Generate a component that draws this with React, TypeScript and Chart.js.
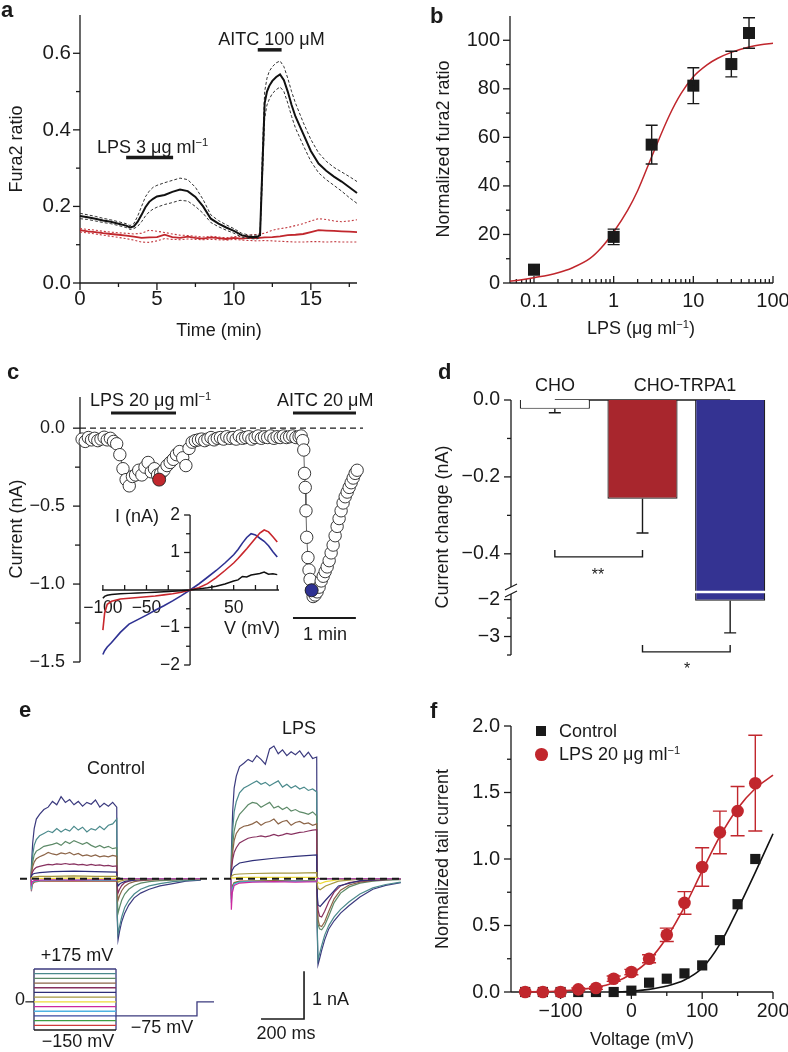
import React, { useEffect, useRef } from "react";
import { Chart, registerables } from "chart.js";

Chart.register(...registerables);

const PAGE_W = 788;
const PAGE_H = 1052;
const FONT = '"Liberation Sans", Arial, Helvetica, sans-serif';
const INK = "#1a1a1a";
const RED = "#c1272d";
const BLUE = "#2e3192";

/* ---------------- panel a : fura2 ratio vs time ---------------- */
const aTime = [0, 0.5, 1, 1.5, 2, 2.5, 3, 3.25, 3.5, 3.75, 4, 4.25, 4.5, 4.75, 5, 5.5, 6, 6.5, 7, 7.5, 8, 8.5, 9, 9.5, 10, 10.5, 11, 11.5, 11.7, 11.85, 12, 12.15, 12.3, 12.5, 12.75, 13, 13.25, 13.5, 13.75, 14, 14.5, 15, 15.5, 16, 16.5, 17, 17.5, 18];
const aBlackMean = [0.175, 0.172, 0.168, 0.163, 0.16, 0.155, 0.15, 0.145, 0.148, 0.16, 0.178, 0.198, 0.212, 0.22, 0.226, 0.23, 0.238, 0.244, 0.24, 0.225, 0.2, 0.168, 0.155, 0.145, 0.136, 0.125, 0.12, 0.12, 0.125, 0.3, 0.47, 0.5, 0.515, 0.528, 0.538, 0.545, 0.53, 0.5, 0.465, 0.435, 0.39, 0.345, 0.312, 0.293, 0.278, 0.265, 0.25, 0.235];
const aBlackHi = [0.182, 0.178, 0.174, 0.169, 0.165, 0.16, 0.155, 0.15, 0.155, 0.175, 0.2, 0.225, 0.24, 0.25, 0.255, 0.262, 0.268, 0.274, 0.27, 0.25, 0.218, 0.178, 0.163, 0.152, 0.142, 0.13, 0.125, 0.125, 0.13, 0.34, 0.5, 0.535, 0.553, 0.565, 0.575, 0.58, 0.565, 0.535, 0.5, 0.47, 0.42, 0.375, 0.34, 0.318, 0.302, 0.29, 0.278, 0.265];
const aBlackLo = [0.168, 0.166, 0.162, 0.158, 0.155, 0.15, 0.145, 0.14, 0.142, 0.148, 0.16, 0.175, 0.186, 0.193, 0.198, 0.205, 0.21, 0.216, 0.214, 0.2, 0.182, 0.158, 0.147, 0.138, 0.13, 0.12, 0.116, 0.115, 0.12, 0.27, 0.43, 0.465, 0.48, 0.495, 0.505, 0.512, 0.5, 0.47, 0.435, 0.405, 0.36, 0.318, 0.288, 0.27, 0.255, 0.24, 0.223, 0.208];
const aRedTime = [0, 0.5, 1, 1.5, 2, 2.5, 3, 3.5, 4, 4.5, 5, 5.5, 6, 6.5, 7, 7.5, 8, 8.5, 9, 9.5, 10, 10.5, 11, 11.5, 12, 12.5, 13, 13.5, 14, 14.5, 15, 15.5, 16, 16.5, 17, 17.5, 18];
const aRedMean = [0.138, 0.135, 0.133, 0.13, 0.128, 0.126, 0.124, 0.121, 0.118, 0.119, 0.12, 0.126, 0.12, 0.118, 0.121, 0.118, 0.116, 0.119, 0.117, 0.115, 0.118, 0.116, 0.118, 0.117, 0.119, 0.12, 0.122, 0.125, 0.126, 0.128, 0.133, 0.138, 0.137, 0.136, 0.135, 0.134, 0.133];
const aRedHi = [0.142, 0.14, 0.138, 0.135, 0.133, 0.131, 0.13, 0.128, 0.13, 0.138, 0.135, 0.132, 0.128, 0.125, 0.124, 0.122, 0.12, 0.122, 0.12, 0.118, 0.121, 0.122, 0.125, 0.127, 0.13, 0.138, 0.142, 0.145, 0.15, 0.155, 0.162, 0.168, 0.166, 0.162, 0.16, 0.162, 0.165];
const aRedLo = [0.133, 0.131, 0.128, 0.125, 0.122, 0.119, 0.116, 0.112, 0.107, 0.106, 0.11, 0.116, 0.114, 0.113, 0.115, 0.114, 0.113, 0.114, 0.113, 0.112, 0.114, 0.112, 0.111, 0.11, 0.111, 0.11, 0.109, 0.108, 0.107, 0.107, 0.108, 0.108, 0.107, 0.108, 0.107, 0.107, 0.107];
const aLpsBar = [3, 6.05];
const aLpsLevel = 0.328;
const aAitcBar = [11.55, 13.1];
const aAitcLevel = 0.609;
const aXMajor = [0, 5, 10, 15];
const aXMinor = [2.5, 7.5, 12.5, 17.5];
const aYMajor = [0, 0.2, 0.4, 0.6];
const aYMinor = [0.1, 0.3, 0.5];

/* ---------------- panel b : dose response ---------------- */
const bDose = [0.1, 1, 3, 10, 30, 50];
const bResp = [5.5, 19, 57, 81.3, 90.2, 103];
const bSem = [2, 3.2, 8, 7.4, 5.3, 6.3];
const bFitDose = [0.05, 0.07, 0.1, 0.15, 0.2, 0.3, 0.5, 0.7, 1, 1.5, 2, 3, 5, 7, 10, 15, 20, 30, 50, 70, 100];
const bFitResp = [0.8, 1.3, 2.2, 3.2, 4.2, 6.2, 10, 14.5, 21, 30, 38, 52, 69, 78, 85, 90, 92.5, 95, 97.2, 98.2, 98.8];
const bXMajor = [0.1, 1, 10, 100];
const bXMinor = [0.06, 0.07, 0.08, 0.09, 0.2, 0.3, 0.4, 0.5, 0.6, 0.7, 0.8, 0.9, 2, 3, 4, 5, 6, 7, 8, 9, 20, 30, 40, 50, 60, 70, 80, 90];
const bYMajor = [0, 20, 40, 60, 80, 100];
const bYMinor = [10, 30, 50, 70, 90];

/* ---------------- panel c : current vs time ---------------- */
const cTime = [0, 3, 6, 9, 12, 15, 18, 21, 24, 27, 30, 33, 36, 39, 42, 45, 48, 51, 54, 57, 60, 63, 66, 69, 72, 75, 78, 81, 84, 87, 90, 93, 96, 99, 102, 105, 108, 111, 114, 117, 120, 123, 126, 129, 132, 135, 138, 141, 144, 147, 150, 153, 156, 159, 162, 165, 168, 171, 174, 177, 180, 183, 186, 189, 192, 195, 198, 201, 204, 207, 209, 210.5, 211.5, 212.2, 212.9, 213.6, 214.3, 215.5, 216.5, 217.5, 219, 220.4, 222.3, 224.2, 226.1, 228.1, 230, 231.9, 233.8, 235.7, 237.6, 239.5, 241.4, 243.3, 245.2, 247.1, 249, 251, 252.9, 254.8, 256.7, 258.6, 260.5, 262.4];
const cCurrent = [
  -0.07, -0.085, -0.06, -0.075, -0.065, -0.08, -0.07, -0.058, -0.075, -0.065,
  -0.085, -0.1, -0.17, -0.26, -0.33, -0.37, -0.31, -0.3, -0.27, -0.3,
  -0.25, -0.22, -0.28, -0.26, -0.3, -0.29, -0.27, -0.24, -0.22, -0.2,
  -0.17, -0.15, -0.19, -0.24, -0.13, -0.09, -0.08, -0.075, -0.07, -0.08,
  -0.07, -0.06, -0.075, -0.065, -0.06, -0.07, -0.055, -0.065, -0.06, -0.07,
  -0.05, -0.065, -0.06, -0.055, -0.07, -0.06, -0.05, -0.065, -0.055, -0.06,
  -0.05, -0.065, -0.055, -0.06, -0.05, -0.06, -0.055, -0.05, -0.06, -0.055,
  -0.05, -0.08, -0.14, -0.29, -0.38, -0.53, -0.7, -0.83, -0.91, -0.97, -1.04,
  -1.08, -1.07, -1.05, -1.02, -0.98, -0.95, -0.92, -0.89, -0.85, -0.8, -0.75, -0.69, -0.63, -0.58, -0.53, -0.48, -0.44, -0.41, -0.38, -0.35, -0.32, -0.29, -0.27,
];
const cLpsPoint = [73.5, -0.33];
const cAitcPoint = [219, -1.04];
const cLpsBar = [27.6, 89.6];
const cAitcBar = [201.2, 261.3];
const cDrugLevel = 0.0975;
const cMinuteBar = [201.2, 261.2];
const cMinuteLevel = -1.217;
const cYMajor = [0, -0.5, -1, -1.5];
const cYMinor = [-0.25, -0.75, -1.25];

/* inset I-V curves */
const ivV = [-100, -98, -95, -90, -80, -70, -60, -50, -40, -30, -20, -10, 0, 10, 20, 30, 40, 50, 55, 60, 65, 70, 75, 80, 85, 90, 95, 100];
const ivBasal = [-0.22, -0.17, -0.14, -0.12, -0.1, -0.09, -0.08, -0.07, -0.06, -0.045, -0.035, -0.02, 0, 0.03, 0.06, 0.1, 0.16, 0.24, 0.27, 0.36, 0.35, 0.4, 0.42, 0.44, 0.48, 0.42, 0.43, 0.41];
const ivLps = [-1.07, -0.62, -0.38, -0.3, -0.24, -0.22, -0.2, -0.18, -0.16, -0.13, -0.1, -0.06, 0, 0.06, 0.17, 0.33, 0.52, 0.72, 0.84, 0.97, 1.1, 1.24, 1.38, 1.52, 1.6, 1.55, 1.42, 1.28];
const ivAitc = [-1.72, -1.62, -1.52, -1.4, -1.13, -0.91, -0.79, -0.67, -0.54, -0.42, -0.29, -0.15, 0, 0.16, 0.34, 0.52, 0.72, 0.94, 1.08, 1.25, 1.4, 1.5, 1.47, 1.38, 1.3, 1.18, 1.02, 0.88];

/* ---------------- panel d : bar chart with broken axis ---------------- */
const dGroups = ["CHO", "CHO-TRPA1 LPS", "CHO-TRPA1 AITC"];
const dMean = [-0.023, -0.257, -2.03];
const dSem = [0.01, 0.089, 0.87];
const dColors = ["#ffffff", "#a8262d", "#343392"];
const dYMajor = [0, -0.2, -0.4, -2, -3];
const dYMinor = [-0.1, -0.3, -2.5, -3.5];
const dBrackets = [
  { from: 0, to: 1, level: -0.408, arm: -0.39 },
  { from: 1, to: 2, level: -3.415, arm: -3.23 },
];
// broken axis: values below -0.5 nA are drawn compressed
const D_UPPER_LIMIT = -0.5;
const D_LOWER_REF = -2;
const D_LOWER_REF_DISP = -0.519;
const D_LOWER_RATIO = 0.0961;
function dDisp(v: number) {
  return v >= D_UPPER_LIMIT ? v : D_LOWER_REF_DISP + (v - D_LOWER_REF) * D_LOWER_RATIO;
}

/* ---------------- panel e : current traces ---------------- */
const eBigT = [0, 3, 8, 15, 25, 40, 60, 80, 100, 120, 140, 160, 180, 200, 220, 240, 260, 280, 300, 320, 340, 360, 380, 399, 401, 405, 412, 422, 436, 455, 480, 510, 550, 600, 660, 720, 790];
const eSmallT = [0, 2, 6, 15, 40, 100, 200, 300, 399, 401, 405, 415, 440, 500, 600, 790];
const eCtrl175 = [0, 0.35, 0.75, 1.05, 1.25, 1.35, 1.45, 1.5, 1.62, 1.55, 1.72, 1.6, 1.66, 1.55, 1.62, 1.52, 1.6, 1.56, 1.65, 1.5, 1.58, 1.52, 1.6, 1.5, -0.8, -1.28, -1.1, -0.9, -0.72, -0.55, -0.4, -0.3, -0.22, -0.15, -0.1, -0.05, -0.03];
const eCtrl150 = [0, 0.25, 0.5, 0.7, 0.82, 0.9, 0.95, 1.0, 0.97, 1.05, 0.98, 1.04, 1.0, 1.1, 1.02, 1.08, 0.98, 1.05, 1.02, 1.1, 1.03, 1.12, 1.15, 1.25, -0.7, -1.15, -1.0, -0.8, -0.6, -0.45, -0.32, -0.22, -0.15, -0.1, -0.06, -0.04, -0.02];
const eCtrl125 = [0, 0.18, 0.35, 0.5, 0.58, 0.62, 0.68, 0.7, 0.72, 0.75, 0.7, 0.78, 0.74, 0.8, 0.76, 0.72, 0.76, 0.7, 0.66, 0.7, 0.65, 0.68, 0.63, 0.65, -0.4, -0.72, -0.6, -0.45, -0.32, -0.22, -0.14, -0.09, -0.06, -0.04, -0.03, -0.02, -0.01];
const eCtrl100 = [0, 0.12, 0.25, 0.35, 0.42, 0.46, 0.5, 0.55, 0.52, 0.5, 0.54, 0.52, 0.55, 0.5, 0.53, 0.48, 0.5, 0.47, 0.5, 0.46, 0.48, 0.46, 0.49, 0.47, -0.25, -0.45, -0.35, -0.25, -0.16, -0.1, -0.06, -0.04, -0.03, -0.02, -0.02, -0.01, -0.01];
const eCtrl75 = [0, 0.08, 0.15, 0.2, 0.24, 0.26, 0.28, 0.3, 0.29, 0.31, 0.3, 0.32, 0.3, 0.31, 0.29, 0.3, 0.28, 0.3, 0.28, 0.29, 0.27, 0.28, 0.26, 0.27, -0.15, -0.3, -0.22, -0.14, -0.08, -0.05, -0.03, -0.02, -0.02, -0.01, -0.01, 0, 0];
const eCtrl50 = [0, 0.05, 0.09, 0.11, 0.13, 0.15, 0.16, 0.15, 0.14, -0.06, -0.15, -0.1, -0.05, -0.02, -0.01, 0];
const eCtrl25 = [0, 0.02, 0.03, 0.04, 0.05, 0.05, 0.06, 0.05, 0.05, -0.03, -0.07, -0.05, -0.02, -0.01, 0, 0];
const eCtrl0 = [0, 0.01, 0.01, 0.01, 0.01, 0.01, 0.02, 0.01, 0.01, -0.01, -0.03, -0.02, -0.01, 0, 0, 0];
const eCtrlM25 = [0, -0.12, -0.06, -0.04, -0.03, -0.02, -0.03, -0.02, -0.02, 0, 0.01, 0, 0, 0, 0, 0];
const eCtrlM50 = [0, -0.18, -0.08, -0.05, -0.04, -0.03, -0.03, -0.03, -0.03, 0, 0.01, 0, 0, 0, 0, 0];
const eCtrlM100 = [0, -0.22, -0.1, -0.06, -0.04, -0.04, -0.04, -0.04, -0.04, 0, 0.02, 0.01, 0, 0, 0, 0];
const eCtrlM125 = [0, -0.26, -0.12, -0.07, -0.05, -0.05, -0.05, -0.05, -0.05, 0, 0.02, 0.01, 0, 0, 0, 0];
const eLps175 = [0, 0.7, 1.4, 1.9, 2.15, 2.35, 2.42, 2.5, 2.45, 2.58, 2.5, 2.4, 2.72, 2.78, 2.62, 2.7, 2.58, 2.66, 2.6, 2.68, 2.55, 2.65, 2.52, 2.55, -1.0, -1.8, -1.68, -1.5, -1.28, -1.05, -0.88, -0.72, -0.56, -0.38, -0.22, -0.14, -0.08];
const eLps150 = [0, 0.5, 1.0, 1.4, 1.62, 1.8, 1.9, 1.95, 2.0, 2.05, 1.98, 2.02, 1.95, 2.0, 2.05, 1.92, 1.98, 1.9, 1.95, 1.88, 1.92, 1.85, 1.88, 1.82, -0.9, -1.7, -1.58, -1.4, -1.18, -0.98, -0.8, -0.64, -0.48, -0.32, -0.19, -0.12, -0.07];
const eLps125 = [0, 0.35, 0.7, 1.0, 1.2, 1.35, 1.45, 1.55, 1.6, 1.58, 1.5, 1.55, 1.6, 1.48, 1.52, 1.45, 1.5, 1.42, 1.45, 1.4, 1.38, 1.35, 1.4, 1.32, -0.5, -0.95, -1.05, -1.07, -0.98, -0.78, -0.5, -0.3, -0.17, -0.09, -0.05, -0.03, -0.02];
const eLps100 = [0, 0.3, 0.55, 0.8, 0.95, 1.05, 1.1, 1.12, 1.15, 1.2, 1.12, 1.18, 1.2, 1.25, 1.15, 1.2, 1.22, 1.12, 1.18, 1.2, 1.15, 1.17, 1.12, 1.15, -0.45, -0.85, -0.98, -1.0, -0.9, -0.68, -0.42, -0.24, -0.13, -0.07, -0.04, -0.02, -0.01];
const eLps75 = [0, 0.2, 0.4, 0.55, 0.65, 0.75, 0.8, 0.85, 0.87, 0.88, 0.9, 0.88, 0.9, 0.93, 0.9, 0.92, 0.95, 0.93, 0.95, 0.97, 0.98, 1.0, 1.02, 1.03, -0.35, -0.65, -0.78, -0.8, -0.68, -0.48, -0.28, -0.15, -0.08, -0.05, -0.03, -0.02, -0.01];
const eLps50 = [0, 0.1, 0.18, 0.25, 0.33, 0.38, 0.43, 0.47, 0.5, -0.3, -0.55, -0.58, -0.45, -0.15, -0.04, 0];
const eLps25 = [0, 0.04, 0.07, 0.09, 0.1, 0.11, 0.12, 0.12, 0.13, -0.1, -0.2, -0.23, -0.15, -0.05, -0.01, 0];
const eLps0 = [0, 0.01, 0.02, 0.02, 0.03, 0.03, 0.03, 0.03, 0.03, -0.03, -0.08, -0.1, -0.06, -0.02, 0, 0];
const eLpsM25 = [0, -0.65, -0.3, -0.14, -0.09, -0.07, -0.06, -0.07, -0.06, 0, 0.01, 0, 0, 0, 0, 0];
const eLpsM50 = [0, -0.5, -0.22, -0.11, -0.07, -0.06, -0.06, -0.05, -0.06, 0, 0.01, 0, 0, 0, 0, 0];
const eLpsM100 = [0, -0.42, -0.18, -0.09, -0.06, -0.05, -0.05, -0.05, -0.05, 0, 0.01, 0, 0, 0, 0, 0];
const eLpsM125 = [0, -0.35, -0.15, -0.08, -0.05, -0.05, -0.04, -0.04, -0.05, 0, 0.01, 0, 0, 0, 0, 0];
const eLpsOffsetMs = 930;
const eScaleBarMs = 200;
const eScaleBarNa = 1;
const eScaleBarOrigin = [1070, -2.937];

/* voltage protocol */
const protoLevels = [175, 150, 125, 100, 75, 50, 25, 0, -25, -50, -75, -100, -125, -150];
const protoColors = ["#3b3a7e", "#4b8a8c", "#5d8a68", "#8c6548", "#87305f", "#2f2f78", "#a5973f", "#eedb3a", "#cc2a9e", "#4fb3e3", "#3848a0", "#3f9d45", "#d03a3a", "#1a1a1a"];
const protoStepMs = 400;
const protoTailMs = 795;
const protoEndMs = 878;
const protoTailMv = -75;
const protoEndMv = 0;

/* ---------------- panel f : tail current activation ---------------- */
const fVolt = [-150, -125, -100, -75, -50, -25, 0, 25, 50, 75, 100, 125, 150, 175];
const fControl = [0, 0, 0, 0, 0, 0, 0.01, 0.07, 0.1, 0.14, 0.2, 0.39, 0.66, 1.0];
const fLps = [0, 0, 0, 0.02, 0.03, 0.1, 0.15, 0.25, 0.43, 0.67, 0.94, 1.2, 1.36, 1.57];
const fLpsSem = [0, 0, 0, 0.01, 0.01, 0.02, 0.02, 0.03, 0.05, 0.085, 0.145, 0.16, 0.185, 0.36];
const fFitLpsV = [-150, -125, -100, -75, -50, -25, 0, 25, 50, 75, 100, 125, 150, 175, 200];
const fFitLps = [0, 0.003, 0.008, 0.018, 0.035, 0.07, 0.135, 0.24, 0.41, 0.64, 0.91, 1.17, 1.38, 1.53, 1.63];
const fFitCtrlV = [-20, 0, 25, 50, 75, 100, 125, 150, 175, 200];
const fFitCtrl = [0, 0.005, 0.02, 0.045, 0.09, 0.18, 0.36, 0.62, 0.9, 1.19];
const fXMajor = [-100, 0, 100, 200];
const fXMinor = [-150, -50, 50, 150];
const fYMajor = [0, 0.5, 1, 1.5, 2];
const fYMinor = [0.25, 0.75, 1.25, 1.75];

/* ---------------- helpers ---------------- */
function fmt(v: number, d: number) {
  return (v < 0 ? "\u2212" : "") + Math.abs(v).toFixed(d);
}
function xy(xs: number[], ys: number[], dx = 0) {
  return xs.map((x, i) => ({ x: x + dx, y: ys[i] }));
}
function lineDs(data: any[], color: string, width: number, dash: number[] = [], extra: any = {}) {
  return { data, borderColor: color, borderWidth: width, borderDash: dash, pointRadius: 0, fill: false, tension: 0, clip: false, ...extra };
}

type Axis = {
  scale: "x" | "y";
  at?: number;
  segments?: number[][];
  major?: number[];
  minor?: number[];
  majLen?: number;
  minLen?: number;
  dir?: number;
  labels?: [number, string][];
  gap?: number;
  noLine?: boolean;
  font?: number;
};

function axesPlugin(axes: Axis[]) {
  return {
    id: "customAxes",
    beforeDatasetsDraw(chart: any) {
      const ctx = chart.ctx;
      const ca = chart.chartArea;
      const xs = chart.scales.x;
      const ys = chart.scales.y;
      ctx.save();
      ctx.strokeStyle = INK;
      ctx.fillStyle = INK;
      ctx.lineWidth = 1.3;
      const seg = (x1: number, y1: number, x2: number, y2: number) => {
        ctx.beginPath();
        ctx.moveTo(x1, y1);
        ctx.lineTo(x2, y2);
        ctx.stroke();
      };
      for (const a of axes) {
        const dir = a.dir ?? 1;
        const majLen = a.majLen ?? 7;
        const minLen = a.minLen ?? 4;
        ctx.font = `${a.font ?? 18}px ${FONT}`;
        if (a.scale === "y") {
          const x0 = a.at === undefined ? ca.left : xs.getPixelForValue(a.at);
          const segs = a.segments ?? [[ys.min, ys.max]];
          if (!a.noLine) for (const [p, q] of segs) seg(x0, ys.getPixelForValue(p), x0, ys.getPixelForValue(q));
          for (const v of a.major ?? []) {
            const y = ys.getPixelForValue(v);
            seg(x0, y, x0 - dir * majLen, y);
          }
          for (const v of a.minor ?? []) {
            const y = ys.getPixelForValue(v);
            seg(x0, y, x0 - dir * minLen, y);
          }
          ctx.textAlign = "right";
          ctx.textBaseline = "middle";
          for (const [v, t] of a.labels ?? []) ctx.fillText(t, x0 - (a.gap ?? 10), ys.getPixelForValue(v));
        } else {
          const y0 = a.at === undefined ? ca.bottom : ys.getPixelForValue(a.at);
          const segs = a.segments ?? [[xs.min, xs.max]];
          if (!a.noLine) for (const [p, q] of segs) seg(xs.getPixelForValue(p), y0, xs.getPixelForValue(q), y0);
          for (const v of a.major ?? []) {
            const x = xs.getPixelForValue(v);
            seg(x, y0, x, y0 + dir * majLen);
          }
          for (const v of a.minor ?? []) {
            const x = xs.getPixelForValue(v);
            seg(x, y0, x, y0 + dir * minLen);
          }
          ctx.textAlign = "center";
          ctx.textBaseline = "middle";
          for (const [v, t] of a.labels ?? []) ctx.fillText(t, xs.getPixelForValue(v), y0 + (a.gap ?? 16));
        }
      }
      ctx.restore();
    },
  };
}

const errorBarsPlugin = {
  id: "errorBars",
  afterDatasetsDraw(chart: any) {
    const ctx = chart.ctx;
    const ys = chart.scales.y;
    chart.data.datasets.forEach((ds: any, i: number) => {
      if (!ds.errPlus && !ds.errEnd) return;
      const meta = chart.getDatasetMeta(i);
      ctx.save();
      ctx.strokeStyle = ds.errColor ?? INK;
      ctx.lineWidth = ds.errWidth ?? 1.3;
      const cap = ds.errCap ?? 6;
      meta.data.forEach((el: any, j: number) => {
        const raw = ds.data[j];
        const yv = typeof raw === "number" ? raw : raw.y;
        const ends: number[] = [];
        if (ds.errEnd) ends.push(ds.errEnd[j]);
        if (ds.errPlus) {
          if (ds.errPlus[j] <= 0) return;
          ends.push(yv + ds.errPlus[j]);
          ends.push(yv - ds.errPlus[j]);
        }
        for (const e of ends) {
          const y = ys.getPixelForValue(e);
          ctx.beginPath();
          ctx.moveTo(el.x, el.y);
          ctx.lineTo(el.x, y);
          ctx.moveTo(el.x - cap, y);
          ctx.lineTo(el.x + cap, y);
          ctx.stroke();
        }
      });
      ctx.restore();
    });
  },
};

function makeConfig(type: string, datasets: any[], area: any, xOpt: any, yOpt: any, plugins: any[], labels?: string[]) {
  return {
    type,
    data: labels ? { labels, datasets } : { datasets },
    options: {
      responsive: false,
      maintainAspectRatio: false,
      animation: false,
      events: [],
      layout: { padding: { left: area.l, top: area.t, right: PAGE_W - area.r, bottom: PAGE_H - area.b } },
      plugins: { legend: { display: false }, tooltip: { enabled: false }, title: { display: false } },
      scales: { x: { display: false, ...xOpt }, y: { display: false, ...yOpt } },
    },
    plugins,
  };
}

/* ---------------- chart builders ---------------- */
function buildA() {
  const area = { l: 80, t: 15, r: 357, b: 283 };
  const ds = [
    lineDs(xy(aTime, aBlackMean), "#111", 2),
    lineDs(xy(aTime, aBlackHi), "#333", 1, [3, 2]),
    lineDs(xy(aTime, aBlackLo), "#333", 1, [3, 2]),
    lineDs(xy(aRedTime, aRedMean), RED, 1.8),
    lineDs(xy(aRedTime, aRedHi), "#c23a40", 1.1, [2, 2]),
    lineDs(xy(aRedTime, aRedLo), "#c23a40", 1.1, [2, 2]),
    lineDs(aLpsBar.map((t) => ({ x: t, y: aLpsLevel })), INK, 3.5),
    lineDs(aAitcBar.map((t) => ({ x: t, y: aAitcLevel })), INK, 3.5),
  ];
  const axes: Axis[] = [
    { scale: "y", major: aYMajor, minor: aYMinor, labels: aYMajor.map((v) => [v, fmt(v, 1)] as [number, string]), gap: 9, font: 20.5 },
    { scale: "x", major: aXMajor, minor: aXMinor, labels: aXMajor.map((v) => [v, fmt(v, 0)] as [number, string]), gap: 16, font: 20.5 },
  ];
  return makeConfig("line", ds, area, { type: "linear", min: 0, max: 18 }, { type: "linear", min: 0, max: 0.7 }, [axesPlugin(axes)]);
}

function buildB() {
  const area = { l: 510, t: 16, r: 773, b: 283 };
  const ds = [
    {
      data: xy(bDose, bResp), showLine: false, pointStyle: "rect", pointRadius: 8.5,
      pointBackgroundColor: INK, pointBorderColor: INK, pointBorderWidth: 0, clip: false,
      errPlus: bSem, errColor: INK, errCap: 6, errWidth: 1.4,
    },
    lineDs(xy(bFitDose, bFitResp), "#c0262c", 1.5, [], { cubicInterpolationMode: "monotone" }),
  ];
  const axes: Axis[] = [
    { scale: "y", major: bYMajor, minor: bYMinor, labels: bYMajor.map((v) => [v, fmt(v, 0)] as [number, string]), gap: 10, font: 20 },
    { scale: "x", major: bXMajor, minor: bXMinor, dir: -1, majLen: 7, minLen: 4, labels: bXMajor.map((v) => [v, String(v)] as [number, string]), gap: 18, font: 20 },
  ];
  return makeConfig("line", ds, area, { type: "logarithmic", min: 0.05, max: 100 }, { type: "linear", min: 0, max: 110 }, [axesPlugin(axes), errorBarsPlugin]);
}

function buildC() {
  const area = { l: 80, t: 397, r: 363, b: 662 };
  const circle = (bg: string) => ({ showLine: false, pointRadius: 6.5, pointBackgroundColor: bg, pointBorderColor: "#222", pointBorderWidth: 0.9, clip: false });
  const ds = [
    { data: [{ x: cLpsPoint[0], y: cLpsPoint[1] }], ...circle(RED) },
    { data: [{ x: cAitcPoint[0], y: cAitcPoint[1] }], ...circle(BLUE) },
    {
      data: xy(cTime, cCurrent), showLine: true, borderColor: "#555", borderWidth: 0.9, tension: 0,
      pointRadius: 6.2, pointBackgroundColor: "#ffffff", pointBorderColor: "#222", pointBorderWidth: 0.9, clip: false,
    },
    lineDs([{ x: -2, y: 0 }, { x: 268, y: 0 }], INK, 1.3, [6, 4]),
    lineDs(cLpsBar.map((t) => ({ x: t, y: cDrugLevel })), INK, 3.2),
    lineDs(cAitcBar.map((t) => ({ x: t, y: cDrugLevel })), INK, 3.2),
    lineDs(cMinuteBar.map((t) => ({ x: t, y: cMinuteLevel })), INK, 2),
  ];
  const axes: Axis[] = [
    { scale: "y", major: cYMajor, minor: cYMinor, majLen: 7, minLen: 5, labels: cYMajor.map((v) => [v, fmt(v, 1)] as [number, string]), gap: 15, font: 18 },
  ];
  return makeConfig("line", ds, area, { type: "linear", min: -2, max: 268 }, { type: "linear", min: -1.5, max: 0.2 }, [axesPlugin(axes)]);
}

function buildInset() {
  const area = { l: 102, t: 515, r: 279, b: 665 };
  const ds = [
    lineDs(xy(ivV, ivBasal), "#111", 1.5),
    lineDs(xy(ivV, ivLps), "#c8262c", 1.6),
    lineDs(xy(ivV, ivAitc), "#2e3192", 1.6),
  ];
  const axes: Axis[] = [
    { scale: "y", at: 0, major: [2, 1, -1, -2], minor: [1.5, 0.5, -0.5, -1.5], majLen: 6, minLen: 4, labels: [[2, "2"], [1, "1"], [-1, "\u22121"], [-2, "\u22122"]], gap: 10, font: 17.5 },
    { scale: "x", at: 0, major: [-100, -75, -50, -25, 25, 50, 75, 100], dir: -1, majLen: 5, labels: [[-100, "\u2212100"], [-50, "\u221250"], [50, "50"]], gap: 18, font: 17.5 },
  ];
  return makeConfig("line", ds, area, { type: "linear", min: -101, max: 102 }, { type: "linear", min: -2, max: 2 }, [axesPlugin(axes)]);
}

function buildD() {
  const area = { l: 511, t: 400, r: 774, b: 655 };
  const breakHi = -0.4863;
  const breakLo = -0.5046;
  const breakBar = -0.4993;
  const ds = [
    {
      data: dMean.map(dDisp), backgroundColor: dColors, borderColor: INK, borderWidth: 1.2,
      barPercentage: 0.8, categoryPercentage: 1, clip: false,
      errEnd: dMean.map((m, i) => dDisp(m - dSem[i])), errCap: 6, errWidth: 1.4, errColor: INK,
    },
  ];
  const extras = {
    id: "dExtras",
    afterDatasetsDraw(chart: any) {
      const ctx = chart.ctx;
      const xs = chart.scales.x;
      const ys = chart.scales.y;
      const bar = chart.getDatasetMeta(0).data[2];
      ctx.save();
      ctx.strokeStyle = "#ffffff";
      ctx.lineWidth = 2.6;
      const yb = ys.getPixelForValue(breakBar);
      ctx.beginPath();
      ctx.moveTo(bar.x - bar.width / 2 - 1, yb);
      ctx.lineTo(bar.x + bar.width / 2 + 1, yb);
      ctx.stroke();
      const ax = chart.chartArea.left;
      ctx.strokeStyle = INK;
      ctx.lineWidth = 1.2;
      for (const v of [breakHi, breakLo]) {
        const y = ys.getPixelForValue(v);
        ctx.beginPath();
        ctx.moveTo(ax - 6, y + 3);
        ctx.lineTo(ax + 6, y - 3);
        ctx.stroke();
      }
      ctx.lineWidth = 1.4;
      for (const b of dBrackets) {
        const x1 = xs.getPixelForValue(b.from);
        const x2 = xs.getPixelForValue(b.to);
        const yl = ys.getPixelForValue(dDisp(b.level));
        const ya = ys.getPixelForValue(dDisp(b.arm));
        ctx.beginPath();
        ctx.moveTo(x1, ya);
        ctx.lineTo(x1, yl);
        ctx.lineTo(x2, yl);
        ctx.lineTo(x2, ya);
        ctx.stroke();
      }
      ctx.restore();
    },
  };
  const axes: Axis[] = [
    {
      scale: "y", segments: [[0, breakHi], [breakLo, dDisp(-3.5)]],
      major: dYMajor.map(dDisp), minor: dYMinor.map(dDisp),
      labels: dYMajor.map((v) => [dDisp(v), Math.abs(v) < 1 ? fmt(v, 1) : fmt(v, 0)] as [number, string]), gap: 11, font: 19.5,
    },
    { scale: "x", at: 0 },
  ];
  return makeConfig("bar", ds, area, { type: "category" }, { type: "linear", min: dDisp(-3.5), max: 0 }, [axesPlugin(axes), errorBarsPlugin, extras], dGroups);
}

function buildE() {
  const area = { l: 20, t: 726, r: 401, b: 1022 };
  const big = [
    { c: eCtrl75, l: eLps75, color: protoColors[4] },
    { c: eCtrl100, l: eLps100, color: protoColors[3] },
    { c: eCtrl125, l: eLps125, color: protoColors[2] },
    { c: eCtrl150, l: eLps150, color: protoColors[1] },
    { c: eCtrl175, l: eLps175, color: protoColors[0] },
  ];
  const small = [
    { c: eCtrlM25, l: eLpsM25, color: protoColors[8] },
    { c: eCtrlM50, l: eLpsM50, color: protoColors[9] },
    { c: eCtrlM100, l: eLpsM100, color: protoColors[11] },
    { c: eCtrlM125, l: eLpsM125, color: protoColors[12] },
    { c: eCtrl0, l: eLps0, color: protoColors[7] },
    { c: eCtrl25, l: eLps25, color: protoColors[6] },
    { c: eCtrl50, l: eLps50, color: protoColors[5] },
  ];
  const ds: any[] = [lineDs([{ x: -51, y: 0 }, { x: 1721, y: 0 }], INK, 1.8, [7, 5])];
  for (const s of small) {
    ds.push(lineDs(xy(eSmallT, s.c), s.color, 1.2));
    ds.push(lineDs(xy(eSmallT, s.l, eLpsOffsetMs), s.color, 1.2));
  }
  for (const s of big) {
    ds.push(lineDs(xy(eBigT, s.c), s.color, 1.2));
    ds.push(lineDs(xy(eBigT, s.l, eLpsOffsetMs), s.color, 1.2));
  }
  const [sx, sy] = eScaleBarOrigin;
  ds.push(lineDs([{ x: sx, y: sy }, { x: sx + eScaleBarMs, y: sy }, { x: sx + eScaleBarMs, y: sy + eScaleBarNa }], INK, 1.6));
  return makeConfig("line", ds, area, { type: "linear", min: -51, max: 1721 }, { type: "linear", min: -3, max: 3.2 }, []);
}

function buildProtocol() {
  const area = { l: 34, t: 969, r: 214, b: 1030 };
  const ds: any[] = [];
  protoLevels.forEach((v, i) => {
    ds.push(lineDs([{ x: 0, y: v }, { x: protoStepMs, y: v }], protoColors[i], 1.3));
  });
  const top = protoLevels[0];
  const bottom = protoLevels[protoLevels.length - 1];
  ds.push(lineDs([{ x: 0, y: bottom }, { x: 0, y: top }], "#2a2a55", 1.3));
  ds.push(lineDs([{ x: protoStepMs, y: top }, { x: protoStepMs, y: protoTailMv }, { x: protoTailMs, y: protoTailMv }, { x: protoTailMs, y: protoEndMv }, { x: protoEndMs, y: protoEndMv }], "#3b3a7e", 1.3));
  ds.push(lineDs([{ x: protoStepMs, y: protoTailMv }, { x: protoStepMs, y: bottom }], "#3b3a7e", 1.3));
  ds.push(lineDs([{ x: -42, y: 0 }, { x: 0, y: 0 }], INK, 1.2));
  return makeConfig("line", ds, area, { type: "linear", min: 0, max: protoEndMs }, { type: "linear", min: -150, max: 175 }, []);
}

function buildF() {
  const area = { l: 511, t: 726, r: 773, b: 992 };
  const ds = [
    {
      data: xy(fVolt, fLps), showLine: false, pointStyle: "circle", pointRadius: 6.3,
      pointBackgroundColor: RED, pointBorderColor: RED, pointBorderWidth: 0, clip: false,
      errPlus: fLpsSem, errColor: RED, errCap: 7, errWidth: 1.4,
    },
    {
      data: xy(fVolt, fControl), showLine: false, pointStyle: "rect", pointRadius: 7.2,
      pointBackgroundColor: INK, pointBorderColor: INK, pointBorderWidth: 0, clip: false,
    },
    lineDs(xy(fFitLpsV, fFitLps), RED, 1.6, [], { cubicInterpolationMode: "monotone" }),
    lineDs(xy(fFitCtrlV, fFitCtrl), "#111", 1.6, [], { cubicInterpolationMode: "monotone" }),
  ];
  const axes: Axis[] = [
    { scale: "y", major: fYMajor, minor: fYMinor, labels: fYMajor.map((v) => [v, fmt(v, 1)] as [number, string]), gap: 11, font: 20 },
    { scale: "x", major: fXMajor, minor: fXMinor, labels: fXMajor.map((v) => [v, fmt(v, 0)] as [number, string]), gap: 20, font: 19.5 },
  ];
  return makeConfig("line", ds, area, { type: "linear", min: -170, max: 200 }, { type: "linear", min: 0, max: 2 }, [axesPlugin(axes), errorBarsPlugin]);
}

/* ---------------- components ---------------- */
function ChartLayer({ build }: { build: () => any }) {
  const ref = useRef<HTMLCanvasElement | null>(null);
  useEffect(() => {
    if (!ref.current) return;
    const chart = new Chart(ref.current, build() as any);
    return () => chart.destroy();
  }, [build]);
  return (
    <canvas
      ref={ref}
      width={PAGE_W}
      height={PAGE_H}
      style={{ position: "absolute", left: 0, top: 0, width: PAGE_W, height: PAGE_H }}
    />
  );
}

function Txt({ x, y, children, size = 18, bold = false, anchor = "middle", rotate = 0 }: any) {
  const tx = anchor === "start" ? "0%" : anchor === "end" ? "-100%" : "-50%";
  return (
    <div
      style={{
        position: "absolute",
        left: x,
        top: y,
        transform: `translate(${tx}, -50%)${rotate ? ` rotate(${rotate}deg)` : ""}`,
        fontSize: size,
        fontWeight: bold ? 700 : 400,
        lineHeight: 1,
        whiteSpace: "nowrap",
        fontFamily: FONT,
        color: INK,
      }}
    >
      {children}
    </div>
  );
}

function Sup({ children }: any) {
  return <span style={{ fontSize: "0.62em", position: "relative", top: "-0.55em" }}>{children}</span>;
}

export default function App() {
  return (
    <div style={{ position: "absolute", left: 0, top: 0, width: PAGE_W, height: PAGE_H, background: "#ffffff", overflow: "hidden" }}>
      <ChartLayer build={buildA} />
      <ChartLayer build={buildB} />
      <ChartLayer build={buildC} />
      <ChartLayer build={buildInset} />
      <ChartLayer build={buildD} />
      <ChartLayer build={buildE} />
      <ChartLayer build={buildProtocol} />
      <ChartLayer build={buildF} />

      {/* panel letters */}
      <Txt x={1} y={10} size={22} bold anchor="start">a</Txt>
      <Txt x={430} y={16} size={22} bold anchor="start">b</Txt>
      <Txt x={7} y={372} size={22} bold anchor="start">c</Txt>
      <Txt x={438} y={372} size={22} bold anchor="start">d</Txt>
      <Txt x={19} y={710} size={22} bold anchor="start">e</Txt>
      <Txt x={430} y={711} size={22} bold anchor="start">f</Txt>

      {/* panel a */}
      <Txt x={97} y={146.5} anchor="start">LPS 3 μg ml<Sup>−1</Sup></Txt>
      <Txt x={271.5} y={38.5}>AITC 100 μM</Txt>
      <Txt x={16} y={149} rotate={-90}>Fura2 ratio</Txt>
      <Txt x={219} y={330}>Time (min)</Txt>

      {/* panel b */}
      <Txt x={443} y={149} rotate={-90}>Normalized fura2 ratio</Txt>
      <Txt x={641} y={328}>LPS (μg ml<Sup>−1</Sup>)</Txt>

      {/* panel c */}
      <Txt x={90} y={400} anchor="start">LPS 20 μg ml<Sup>−1</Sup></Txt>
      <Txt x={277} y={400} anchor="start">AITC 20 μM</Txt>
      <Txt x={16} y={529} rotate={-90}>Current (nA)</Txt>
      <Txt x={325} y={634}>1 min</Txt>
      <Txt x={137} y={516}>I (nA)</Txt>
      <Txt x={252} y={628}>V (mV)</Txt>

      {/* panel d */}
      <Txt x={555} y={385}>CHO</Txt>
      <Txt x={685} y={385}>CHO-TRPA1</Txt>
      <Txt x={442} y={527} rotate={-90}>Current change (nA)</Txt>
      <Txt x={598} y={575} size={16}>**</Txt>
      <Txt x={687} y={669} size={16}>*</Txt>

      {/* panel e */}
      <Txt x={116} y={768}>Control</Txt>
      <Txt x={299} y={727.5}>LPS</Txt>
      <Txt x={77} y={955}>+175 mV</Txt>
      <Txt x={20} y={999}>0</Txt>
      <Txt x={78} y={1041}>−150 mV</Txt>
      <Txt x={162} y={1027}>−75 mV</Txt>
      <Txt x={312} y={999} anchor="start">1 nA</Txt>
      <Txt x={286} y={1033}>200 ms</Txt>

      {/* panel f */}
      <div style={{ position: "absolute", left: 536, top: 726, width: 10, height: 10, background: INK }} />
      <div style={{ position: "absolute", left: 535, top: 748, width: 12.6, height: 12.6, borderRadius: "50%", background: RED }} />
      <Txt x={559} y={731} anchor="start">Control</Txt>
      <Txt x={559} y={754} anchor="start">LPS 20 μg ml<Sup>−1</Sup></Txt>
      <Txt x={442} y={859} rotate={-90}>Normalized tail current</Txt>
      <Txt x={642} y={1039}>Voltage (mV)</Txt>
    </div>
  );
}
